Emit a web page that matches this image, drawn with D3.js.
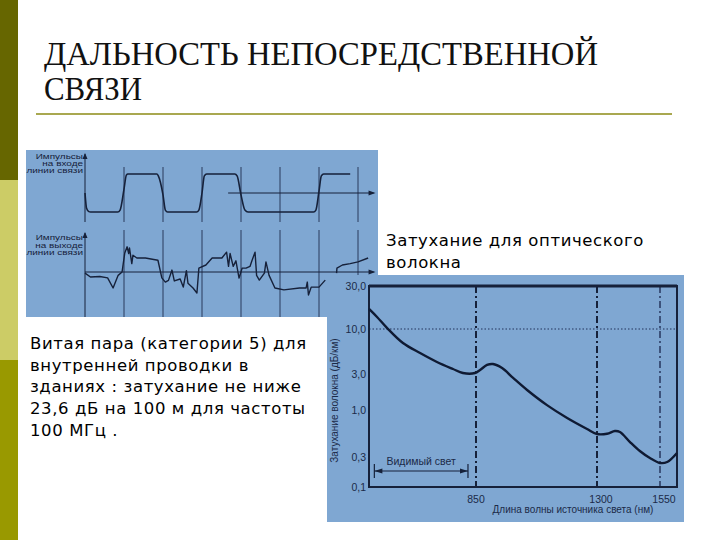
<!DOCTYPE html>
<html><head><meta charset="utf-8">
<script src="https://cdn.jsdelivr.net/npm/d3@7/dist/d3.min.js"></script>
<style>
html,body{margin:0;padding:0;background:#fff;}
svg{display:block;}
</style></head>
<body>
<svg id="c" width="720" height="540"></svg>
<script>
// ---------- DATA ----------
const titleLines = ["ДАЛЬНОСТЬ НЕПОСРЕДСТВЕННОЙ", "СВЯЗИ"];
const titleWidths = [554, 98];
const twistedPairText = ["Витая пара (категории 5) для", "внутренней проводки в", "зданиях : затухание не ниже", "23,6 дБ на 100 м для частоты", "100 МГц ."];
const fiberCaption = ["Затухание для оптического", "волокна"];

const inputLabel = ["Импульсы", "на входе", "линии связи"];
const outputLabel = ["Импульсы", "на выходе", "линии связи"];
const pulseGridTicks = [1, 2, 3, 4, 5, 6, 7];
// input pulses: [time (bit periods), level 0..1]
const pulseIn = [[0,0.5],[0.04,0.1],[0.1,0.01],[0.14,0],[0.84,0],[0.9,0.05],[1.0,0.6],[1.06,0.97],[1.1,1],[1.84,1],[1.88,0.95],[2.0,0.45],[2.06,0.05],[2.12,0],[2.86,0],[2.92,0.05],[3.0,0.5],[3.06,0.95],[3.12,1],[3.84,1],[3.9,0.95],[4.0,0.45],[4.1,0.05],[4.18,0],[5.86,0],[5.92,0.05],[6.0,0.55],[6.06,0.95],[6.12,1],[6.8,1]];
// output pulses (distorted): [time, amplitude]
const pulseOutA = [[0,-0.04],[0.14,-0.18],[0.38,-0.16],[0.58,-0.21],[0.72,-0.57],[0.85,-0.12],[0.95,0],[1.02,0.68],[1.08,0.9],[1.12,0.66],[1.14,0.86],[1.2,0.3],[1.23,0.6],[1.33,0.5],[1.55,0.5],[1.87,0.42],[1.97,-0.21],[2.06,-0.36],[2.14,-0.3],[2.23,0.07],[2.29,-0.32],[2.44,-0.25],[2.52,-0.54],[2.6,0.05],[2.64,-0.4],[2.77,-0.57],[2.87,-0.75],[2.92,0.14],[3.1,0.25],[3.26,0.5],[3.51,0.5],[3.63,0.71],[3.68,0.2],[3.72,0.66],[3.8,0.2],[3.87,0.4],[3.95,-0.22],[4.03,0.14],[4.13,0.14],[4.23,0.2],[4.28,0.4],[4.36,0.71],[4.4,-0.12],[4.47,-0.29],[4.6,-0.04],[4.64,0.36],[4.72,-0.12],[4.87,-0.57],[5.1,-0.64],[5.5,-0.57],[5.67,-0.57],[5.7,-0.36],[5.73,-0.82],[5.8,-0.54],[6.0,-0.54],[6.16,-0.29]];
const pulseOutB = [[6.45,-0.04],[6.46,0.14],[6.6,0.25],[6.8,0.3],[7.0,0.36],[7.26,0.5]];

// attenuation of optical fibre: wavelength (nm), attenuation (dB/km)
const wavelength = [450,480,517,577,641,704,764,801,846,865,891,913,947,988,1040,1114,1189,1263,1300,1340,1371,1391,1431,1470,1510,1550,1571,1600];
const attenuation = [16.7,13.6,10.3,6.87,5.26,4.14,3.43,3.08,3.08,3.34,3.82,3.92,3.52,2.66,1.84,1.16,0.815,0.615,0.541,0.545,0.584,0.57,0.44,0.35,0.289,0.241,0.25,0.333];
const yTicks = [30, 10, 3, 1, 0.3, 0.1];
const yTickLabels = ["30,0", "10,0", "3,0", "1,0", "0,3", "0,1"];
const xTicks = [850, 1300, 1550];
const visibleRange = [470, 820];
const visibleLabel = "Видимый свет";
const yAxisTitle = "Затухание волокна (дБ/км)";
const xAxisTitle = "Длина волны источника света (нм)";

// ---------- DRAW ----------
const svg = d3.select("#c");
const BLUE = "#7fa7d2", INK = "#16213a";

// left decorative bar
[["#666600",0],["#cccc66",180],["#999900",360]].forEach(([c,y]) =>
  svg.append("rect").attr("x",0).attr("y",y).attr("width",18).attr("height",180).attr("fill",c));

// title
svg.selectAll("text.title").data(titleLines).join("text")
  .attr("x", 44).attr("y", (d,i) => 65 + i*35)
  .attr("font-family", "Liberation Serif, Times New Roman, serif")
  .attr("font-size", 34).attr("fill", "#111")
  .attr("textLength", (d,i) => titleWidths[i]).attr("lengthAdjust", "spacingAndGlyphs")
  .text(d => d);
svg.append("line").attr("x1",36).attr("x2",672).attr("y1",114).attr("y2",114)
  .attr("stroke","#a9a850").attr("stroke-width",2);

// ---- left image: pulses ----
const L = svg.append("g");
L.append("rect").attr("x",26).attr("y",150).attr("width",352).attr("height",167).attr("fill",BLUE);
const tx = d3.scaleLinear().domain([0,7.5]).range([85,377.5]);
const yIn = d3.scaleLinear().domain([0,1]).range([212,174]);
const yOut = d3.scaleLinear().domain([-1,1]).range([300,244]);

// grid verticals
pulseGridTicks.forEach(t => {
  L.append("line").attr("x1",tx(t)).attr("x2",tx(t)).attr("y1",167).attr("y2",222)
    .attr("stroke","#2a3a5c").attr("stroke-width",1);
  L.append("line").attr("x1",tx(t)).attr("x2",tx(t)).attr("y1",230).attr("y2",317)
    .attr("stroke","#2a3a5c").attr("stroke-width",1);
});
// axes
function arrowUp(x, yTip){
  L.append("path").attr("d",`M${x-2.5},${yTip+6}L${x},${yTip}L${x+2.5},${yTip+6}Z`).attr("fill",INK);
}
function arrowRight(xTip, y){
  L.append("path").attr("d",`M${xTip-7},${y-2.5}L${xTip},${y}L${xTip-7},${y+2.5}Z`).attr("fill",INK);
}
L.append("line").attr("x1",tx(0)).attr("x2",tx(0)).attr("y1",154).attr("y2",222).attr("stroke",INK).attr("stroke-width",1);
arrowUp(tx(0),153);
L.append("line").attr("x1",tx(0)).attr("x2",tx(0)).attr("y1",233).attr("y2",317).attr("stroke",INK).attr("stroke-width",1);
arrowUp(tx(0),232);
L.append("line").attr("x1",tx(3.67)).attr("x2",tx(7.4)).attr("y1",yIn(0.5)).attr("y2",yIn(0.5)).attr("stroke",INK).attr("stroke-width",1);
arrowRight(tx(7.45), yIn(0.5));
L.append("line").attr("x1",tx(0)).attr("x2",tx(7.4)).attr("y1",yOut(0)).attr("y2",yOut(0)).attr("stroke",INK).attr("stroke-width",1);
arrowRight(tx(7.45), yOut(0));

const lineIn = d3.line().x(d=>tx(d[0])).y(d=>yIn(d[1])).curve(d3.curveMonotoneX);
const lineOut = d3.line().x(d=>tx(d[0])).y(d=>yOut(d[1]));
L.append("path").attr("d",lineIn(pulseIn)).attr("fill","none").attr("stroke",INK).attr("stroke-width",1.6);
[pulseOutA, pulseOutB].forEach(s =>
  L.append("path").attr("d",lineOut(s)).attr("fill","none").attr("stroke",INK).attr("stroke-width",1.4).attr("stroke-linejoin","round"));

function smallLabel(lines, y0, dy){
  lines.forEach((t,i) => {
    L.append("text").attr("transform",`translate(83,${y0+i*dy}) scale(0.95,0.64)`)
      .attr("text-anchor","end")
      .attr("font-family","Liberation Sans, Arial, sans-serif").attr("font-size",10.5).attr("fill",INK).text(t);
  });
}
smallLabel(inputLabel, 159, 6.9);
smallLabel(outputLabel, 240, 7.6);

// ---- captions ----
svg.selectAll("text.fc").data(fiberCaption).join("text")
  .attr("x",386).attr("y",(d,i)=>246+i*21.5)
  .attr("font-family","DejaVu Sans, Verdana, sans-serif").attr("font-size",16.5).attr("letter-spacing",0.6).attr("fill","#000").text(d=>d);
svg.selectAll("text.tp").data(twistedPairText).join("text")
  .attr("x",30).attr("y",(d,i)=>349+i*21.7)
  .attr("font-family","DejaVu Sans, Verdana, sans-serif").attr("font-size",16.5).attr("letter-spacing",0.6).attr("fill","#000").text(d=>d);

// ---- right image: attenuation ----
const R = svg.append("g");
R.append("rect").attr("x",327).attr("y",275).attr("width",357).attr("height",247).attr("fill",BLUE);
const fx = d3.scaleLinear().domain([450,850,1300,1550,1600]).range([369,476,597,660,677]);
const fy = d3.scaleLog().domain([0.1,0.3,1,3,10,30]).range([487,457,410,374,329,286]);
const F = {l:fx(450), r:fx(1600), t:fy(30), b:fy(0.1)};

// dotted 10 dB line
R.append("line").attr("x1",F.l).attr("x2",F.r).attr("y1",fy(10)).attr("y2",fy(10))
  .attr("stroke","#22325a").attr("stroke-width",1).attr("stroke-dasharray","1.5,2");
// dash-dot wavelength windows
xTicks.forEach((v,i) => {
  R.append("line").attr("x1",fx(v)).attr("x2",fx(v)).attr("y1",F.t).attr("y2",F.b)
    .attr("stroke", i===2 ? "#2c3e66" : INK).attr("stroke-width", i===2 ? 1.6 : 2)
    .attr("stroke-dasharray","7,3,2,3");
});
// frame
R.append("rect").attr("x",F.l).attr("y",F.t).attr("width",F.r-F.l).attr("height",F.b-F.t)
  .attr("fill","none").attr("stroke",INK).attr("stroke-width",2);
R.append("line").attr("x1",F.l).attr("x2",F.r).attr("y1",F.t).attr("y2",F.t).attr("stroke",INK).attr("stroke-width",3);

// y labels
R.selectAll("text.yt").data(yTicks).join("text")
  .attr("x",F.l-3).attr("y",d=>fy(d)).attr("dy","0.35em").attr("text-anchor","end")
  .attr("font-family","Liberation Sans, Arial, sans-serif").attr("font-size",10.5).attr("fill","#1b2a48")
  .text((d,i)=>yTickLabels[i]);
// x labels
R.selectAll("text.xt").data(xTicks).join("text")
  .attr("x",d=>Math.min(fx(d)+ (d>850?4:0), F.r-9)).attr("y",F.b+16).attr("text-anchor","middle")
  .attr("font-family","Liberation Sans, Arial, sans-serif").attr("font-size",10.5).attr("fill","#1b2a48")
  .text(d=>d);
// axis titles
R.append("text").attr("transform",`translate(338,${(F.t+F.b)/2+14}) rotate(-90)`).attr("text-anchor","middle")
  .attr("font-family","Liberation Sans, Arial, sans-serif").attr("font-size",10).attr("fill","#1b2a48").text(yAxisTitle);
R.append("text").attr("x",573).attr("y",F.b+26).attr("text-anchor","middle")
  .attr("font-family","Liberation Sans, Arial, sans-serif").attr("font-size",10).attr("fill","#1b2a48").text(xAxisTitle);

// curve
const fline = d3.line().x(d=>fx(d[0])).y(d=>fy(d[1])).curve(d3.curveCatmullRom);
R.append("path").attr("d",fline(wavelength.map((w,i)=>[w,attenuation[i]])))
  .attr("fill","none").attr("stroke","#0f1a33").attr("stroke-width",2.4).attr("stroke-linejoin","round");

// visible light annotation
const vx0 = fx(visibleRange[0]), vx1 = fx(visibleRange[1]), vy = 471;
R.append("line").attr("x1",vx0).attr("x2",vx1).attr("y1",vy).attr("y2",vy).attr("stroke",INK).attr("stroke-width",1.2);
[vx0,vx1].forEach(x => R.append("line").attr("x1",x).attr("x2",x).attr("y1",vy-7).attr("y2",vy+7).attr("stroke",INK).attr("stroke-width",1.2));
R.append("path").attr("d",`M${vx0},${vy}L${vx0+8},${vy-2.5}L${vx0+8},${vy+2.5}Z`).attr("fill",INK);
R.append("path").attr("d",`M${vx1},${vy}L${vx1-8},${vy-2.5}L${vx1-8},${vy+2.5}Z`).attr("fill",INK);
R.append("text").attr("x",(vx0+vx1)/2).attr("y",vy-6).attr("text-anchor","middle")
  .attr("font-family","Liberation Sans, Arial, sans-serif").attr("font-size",10.5).attr("fill","#1b2a48").text(visibleLabel);
</script>
</body></html>
